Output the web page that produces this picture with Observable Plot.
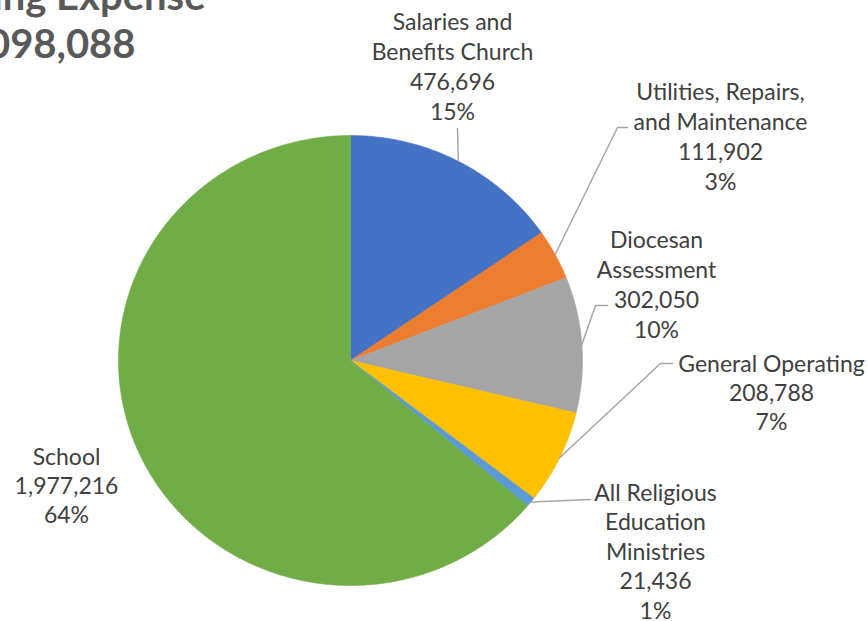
<!DOCTYPE html>
<html>
<head>
<meta charset="utf-8">
<script src="https://cdn.jsdelivr.net/npm/d3@7"></script>
<script src="https://cdn.jsdelivr.net/npm/@observablehq/plot@0.6"></script>
<style>
  html, body { margin: 0; padding: 0; background: #ffffff; }
  #chart { width: 868px; height: 621px; overflow: hidden; }
</style>
</head>
<body>
<div id="chart"></div>
<script>
// ---- data ----
const categories = [
  "Salaries and\nBenefits Church",
  "Utilities, Repairs,\nand Maintenance",
  "Diocesan\nAssessment",
  "General Operating",
  "All Religious\nEducation\nMinistries",
  "School"
];
const values = [476696, 111902, 302050, 208788, 21436, 1977216];
const percentLabels = ["15%", "3%", "10%", "7%", "1%", "64%"];
const titleLines = ["Operating Expense", "$3,098,088"];

// ---- styles / layout (not data) ----
const colors = ["#4472C4", "#ED7D31", "#A5A5A5", "#FFC000", "#5B9BD5", "#70AD47"];
const W = 868, H = 621;
const CX = 350, CY = 360, RX = 232, RY = 225;   // pie centre / radii in px
// label block centres (px) and leader elbows (px) for each category
const labelAt = [[452, 65], [720, 135], [656, 283], [771, 391], [655, 550], [66, 484]];
const labelLH = [1.30, 1.30, 1.30, 1.26, 1.28, 1.26];
const leaderElbows = [
  [[457, 128]],
  [[617, 127], [627, 127]],
  [[595, 305], [607, 305]],
  [[660, 363], [672, 363]],
  [[590, 499]],
  null
];

const px2x = (px) => (px - CX) / RX;
const py2y = (py) => (CY - py) / RY;

const rows = categories.map((name, i) => ({
  name, value: values[i],
  label: `${name}\n${d3.format(",")(values[i])}\n${percentLabels[i]}`
}));

const arcs = d3.pie().sort(null).value(d => d.value)(rows);

// slice polygons in unit-circle coordinates (angle 0 = 12 o'clock, clockwise)
const slicePts = [];
arcs.forEach(a => {
  const n = Math.max(2, Math.ceil((a.endAngle - a.startAngle) / (Math.PI / 360)));
  slicePts.push({name: a.data.name, x: 0, y: 0});
  for (let k = 0; k <= n; k++) {
    const t = a.startAngle + (a.endAngle - a.startAngle) * k / n;
    slicePts.push({name: a.data.name, x: Math.sin(t), y: Math.cos(t)});
  }
  slicePts.push({name: a.data.name, x: 0, y: 0});
});

// leader lines: from slice mid-angle on the rim to the label elbows
const leaderPts = [];
arcs.forEach((a, i) => {
  if (!leaderElbows[i]) return;
  const m = (a.startAngle + a.endAngle) / 2;
  leaderPts.push({name: a.data.name, x: Math.sin(m), y: Math.cos(m)});
  leaderElbows[i].forEach(([px, py]) => leaderPts.push({name: a.data.name, x: px2x(px), y: py2y(py)}));
});

const labelRows = rows.map((r, i) => ({...r, x: px2x(labelAt[i][0]), y: py2y(labelAt[i][1]), lh: labelLH[i]}));

const font = "Lato, 'Open Sans', sans-serif";

const plot = Plot.plot({
  width: W, height: H,
  margin: 0,
  style: {background: "#ffffff", fontFamily: font},
  x: {domain: [px2x(0), px2x(W)], axis: null},
  y: {domain: [py2y(H), py2y(0)], axis: null},
  color: {domain: categories, range: colors},
  marks: [
    Plot.line(slicePts, {x: "x", y: "y", z: "name", fill: "name", stroke: "name", strokeWidth: 0.6, curve: "linear"}),
    Plot.line(leaderPts, {x: "x", y: "y", z: "name", stroke: "#a6a6a6", strokeWidth: 1.5}),
    ...labelRows.map(r => Plot.text([r], {
      x: "x", y: "y", text: "label",
      fontSize: 23, lineHeight: r.lh, fill: "#404040",
      textAnchor: "middle", lineAnchor: "middle"
    })),
    Plot.text([titleLines[0]], {frameAnchor: "top-left", text: d => d, textAnchor: "end", lineAnchor: "bottom",
      dx: 205, dy: 9, fontSize: 40, fontWeight: "bold", fill: "#595959"}),
    Plot.text([titleLines[1]], {frameAnchor: "top-left", text: d => d, textAnchor: "end", lineAnchor: "bottom",
      dx: 135, dy: 57, fontSize: 40, fontWeight: "bold", fill: "#595959"})
  ]
});

document.getElementById("chart").appendChild(plot);
</script>
</body>
</html>
